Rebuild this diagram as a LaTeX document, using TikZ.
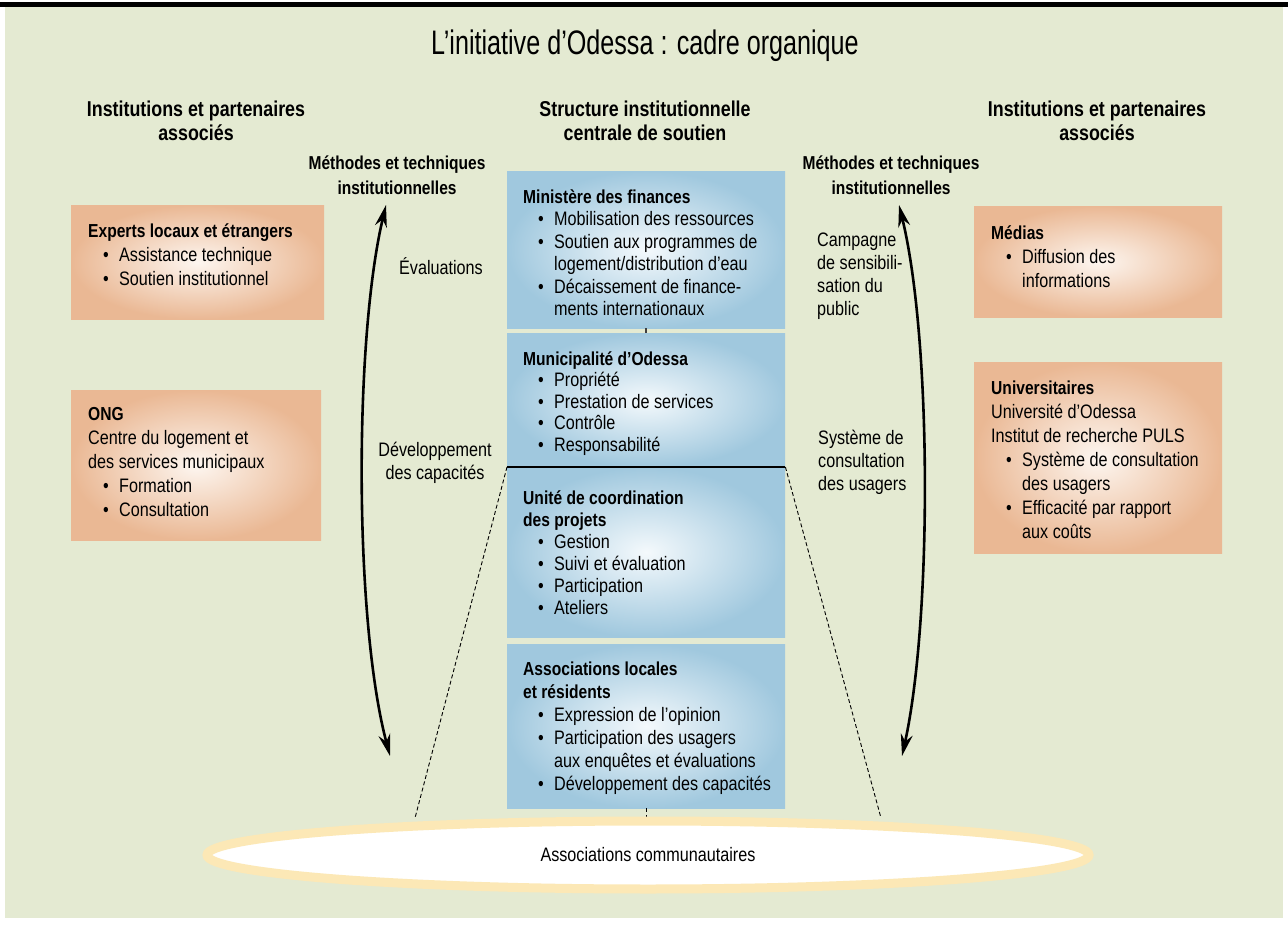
\documentclass[tikz,border=0pt]{standalone}
\usepackage{fontspec}
\setmainfont{Liberation Sans}[FakeStretch=0.83]
\newfontfamily\titlefont{Liberation Sans}[FakeStretch=0.74]
\usetikzlibrary{arrows.meta,shapes.geometric}
\definecolor{bgc}{RGB}{228,234,210}
\definecolor{oout}{RGB}{234,184,148}
\definecolor{oin}{RGB}{253,246,240}
\definecolor{bout}{RGB}{160,200,222}
\definecolor{bin}{RGB}{244,249,252}
\definecolor{ecol}{RGB}{252,232,182}
\newcommand\tstrut{\rule{0pt}{20pt}}
\newcommand\hd[1]{{\fontsize{18.8}{22}\selectfont\bfseries #1}}
\newcommand\itm{\hspace*{15pt}\makebox[16pt][l]{\textbullet}}
\newcommand\cnt{\hspace*{31pt}}
\begin{document}
\begin{tikzpicture}[x=1pt,y=-1pt,
 obox/.style={shade,shading=radial,inner color=oin,outer color=oout,inner sep=0pt,anchor=north west},
 bbox/.style={shade,shading=radial,inner color=bin,outer color=bout,inner sep=0pt,anchor=north west,minimum width=278pt},
 stxt/.style={anchor=north west,inner sep=0pt,align=left,font=\fontsize{19.5}{24}\selectfont},
 ctxt/.style={anchor=north west,inner sep=0pt,align=left,font=\fontsize{19.5}{#1}\selectfont},
 ctxt/.default=22,
 head/.style={align=center,font=\fontsize{21.5}{24}\selectfont\bfseries},
 mhead/.style={align=center,font=\fontsize{18.7}{25}\selectfont\bfseries},
 lbl/.style={inner sep=0pt,font=\fontsize{19.5}{23}\selectfont},
 arr/.style={line width=2.6pt,arrows={Stealth[length=22pt,width=12pt]-Stealth[length=22pt,width=12pt]}},
 dsh/.style={line width=0.9pt,dash pattern=on 4pt off 2.5pt}]
\useasboundingbox (0,0) rectangle (1288,925);
\fill[white] (0,0) rectangle (1288,925);
\fill[bgc] (5,7) rectangle (1283,918);
\fill[black] (0,2) rectangle (1288,7);

% title and headings
\node[font=\titlefont\fontsize{34}{38}\selectfont] (title) at (645,46) {L’initiative d’Odessa : cadre organique};
\node[head] (hl) at (196,121) {Institutions et partenaires\\associés};
\node[head] (hc) at (645,121) {Structure institutionnelle\\centrale de soutien};
\node[head] (hr) at (1097,121) {Institutions et partenaires\\associés};
\node[mhead] (ml) at (397,175) {Méthodes et techniques\\institutionnelles};
\node[mhead] (mr) at (891,175) {Méthodes et techniques\\institutionnelles};

% left boxes
\node[obox,minimum width=253pt,minimum height=114pt] (exp) at (71,205) {};
\node[stxt] (expt) at (88,217) {\tstrut\hd{Experts locaux et étrangers}\\\itm Assistance technique\\\itm Soutien institutionnel};
\node[obox,minimum width=250pt,minimum height=150pt] (ong) at (71,390) {};
\node[stxt] (ongt) at (88,400) {\tstrut\hd{ONG}\\Centre du logement et\\des services municipaux\\\itm Formation\\\itm Consultation};

% right boxes
\node[obox,minimum width=248pt,minimum height=111pt] (med) at (974,206) {};
\node[stxt] (medt) at (991,219) {\tstrut\hd{Médias}\\\itm Diffusion des\\\cnt informations};
\node[obox,minimum width=248pt,minimum height=191pt] (uni) at (974,362) {};
\node[stxt] (unit) at (991,374) {\tstrut\hd{Universitaires}\\Université d’Odessa\\Institut de recherche PULS\\\itm Système de consultation\\\cnt des usagers\\\itm Efficacité par rapport\\\cnt aux coûts};

% free ends of the dashed connectors on the ellipse
\coordinate (dl) at (415,818);
\coordinate (dr) at (881,818);

% centre boxes
\node[bbox,minimum height=157pt] (mf) at (507,171) {};
\node[bbox,minimum height=134pt] (mu) at (507,333) {};
\node[bbox,minimum height=170pt] (un) at (507,467) {};
\node[bbox,minimum height=164pt] (as) at (507,644) {};
\draw[line width=1.6pt,black!75] (mf.south) -- (mu.north);
\draw[dsh] (un.north west) -- (dl);
\draw[dsh] (un.north east) -- (dr);
\draw[dsh,line width=0.7pt] (as.south) -- ++(0,14);
\draw[line width=2.5pt] (un.north west) -- (un.north east);

\node[ctxt=22.5] (mft) at (523,183) {\tstrut\hd{Ministère des finances}\\\itm Mobilisation des ressources\\\itm Soutien aux programmes de\\\cnt logement/distribution d’eau\\\itm Décaissement de finance-\\\cnt ments internationaux};
\node[ctxt=21.5] (mut) at (523,345) {\tstrut\hd{Municipalité d’Odessa}\\\itm Propriété\\\itm Prestation de services\\\itm Contrôle\\\itm Responsabilité};
\node[ctxt=22] (unt) at (523,484) {\tstrut\hd{Unité de coordination}\\\hd{des projets}\\\itm Gestion\\\itm Suivi et évaluation\\\itm Participation\\\itm Ateliers};
\node[ctxt=23] (ast) at (523,655) {\tstrut\hd{Associations locales}\\\hd{et résidents}\\\itm Expression de l’opinion\\\itm Participation des usagers\\\cnt aux enquêtes et évaluations\\\itm Développement des capacités};

% ellipse
\node[ellipse,draw=ecol,line width=9pt,fill=white,minimum width=882pt,minimum height=68pt,inner sep=0pt,font=\fontsize{19.5}{22}\selectfont] (ell) at (648,855) {Associations communautaires};

% labels
\node[lbl] (ev) at (441,266) {Évaluations};
\node[lbl,align=center] (dev) at (435,463) {Développement\\des capacités};
\node[lbl,align=left,anchor=west] (camp) at (817,276) {Campagne\\de sensibili-\\sation du\\public};
\node[lbl,align=left,anchor=west] (sys) at (818,462) {Système de\\consultation\\des usagers};

% arrows
\coordinate (lt) at (386,205);
\coordinate (lb) at (390,756);
\coordinate (rt) at (899,205);
\coordinate (rb) at (902,756);
\draw[arr] (lb) .. controls (354,620) and (354,340) .. (lt);
\draw[arr] (rt) .. controls (932,340) and (932,620) .. (rb);
\end{tikzpicture}
\end{document}
